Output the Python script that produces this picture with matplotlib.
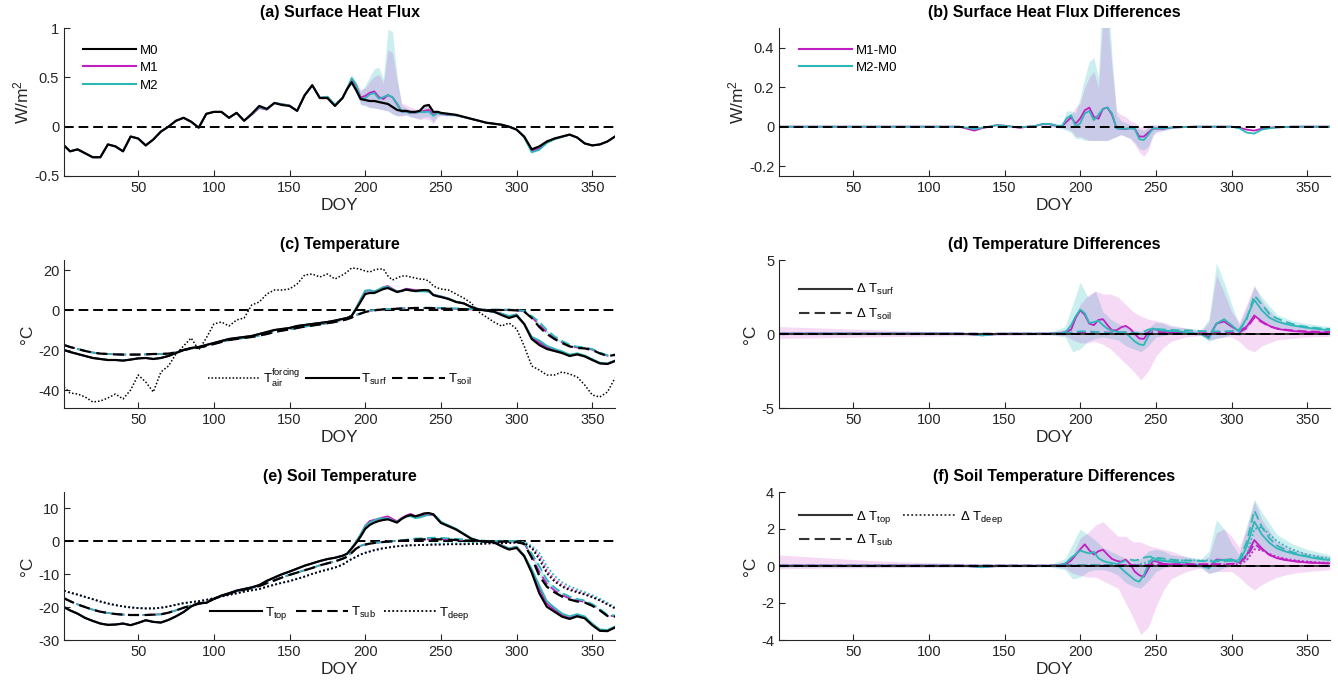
import numpy as np
import matplotlib.pyplot as plt
from matplotlib.lines import Line2D
from matplotlib.ticker import FuncFormatter

plt.rcParams['font.family'] = ['Liberation Sans', 'DejaVu Sans']
plt.rcParams['mathtext.fontset'] = 'custom'
plt.rcParams['mathtext.rm'] = 'Liberation Sans'
plt.rcParams['mathtext.it'] = 'Liberation Sans:italic'
plt.rcParams['axes.unicode_minus'] = False

# DOY grid: 5-day steps, 3-day steps over the summer spike period
doy = np.r_[1, np.arange(5, 186, 5), np.arange(188, 249, 3), np.arange(250, 366, 5)]
xticks = [50, 100, 150, 200, 250, 300, 350]

# (a) surface heat flux of M0 (W/m2)
flux_m0 = [
    -0.19, -0.25, -0.23, -0.27, -0.31, -0.31, -0.18, -0.20, -0.25, -0.10,
    -0.12, -0.19, -0.13, -0.05, 0.00, 0.06, 0.09, 0.05, -0.01, 0.13,
    0.15, 0.15, 0.09, 0.14, 0.06, 0.13, 0.21, 0.18, 0.24, 0.22,
    0.21, 0.16, 0.32, 0.42, 0.29, 0.29, 0.21, 0.29,
    0.38, 0.45, 0.37, 0.28, 0.27, 0.26, 0.26, 0.25, 0.24, 0.23, 0.20,
    0.17, 0.16, 0.16, 0.15, 0.15, 0.16, 0.21, 0.22, 0.15, 0.15,
    0.14, 0.13, 0.12, 0.10, 0.08, 0.06, 0.04, 0.03, 0.02, 0.00, -0.03, -0.10,
    -0.23, -0.20, -0.15, -0.12, -0.10, -0.08, -0.11, -0.17, -0.19, -0.18, -0.15, -0.10,
]
# (b) flux differences M1-M0, M2-M0
dflux_m1 = [
    0, 0, 0, 0, 0, 0, 0, 0, 0, 0, 0, 0, 0, 0, 0, 0, 0, 0, 0, 0, 0, 0, 0, 0, 0,
    -0.01, -0.02, -0.008, 0.0, 0.008, 0.005, 0.0, -0.006, 0.0, 0.003, 0.012, 0.012, 0.003,
    0.003, 0.025, 0.047, 0.015, 0.042, 0.083, 0.097, 0.05, 0.04, 0.09, 0.097,
    0.06, -0.008, -0.01, -0.012, -0.008, -0.01, -0.05, -0.05, -0.03, -0.01,
    -0.01, -0.01, -0.005, -0.003, -0.002, 0, 0, 0, 0, 0, 0, -0.005,
    -0.015, -0.02, -0.01, -0.005, -0.003, -0.002, 0, 0, 0, 0, 0, 0,
]
dflux_m2 = [
    0, 0, 0, 0, 0, 0, 0, 0, 0, 0, 0, 0, 0, 0, 0, 0, 0, 0, 0, 0, 0, 0, 0, 0, 0,
    -0.005, -0.012, -0.005, 0.0, 0.008, 0.004, 0.0, -0.003, 0.0, 0.003, 0.014, 0.013, 0.003,
    0.003, 0.042, 0.058, 0.0, 0.017, 0.067, 0.08, 0.033, 0.06, 0.09, 0.097,
    0.067, -0.008, -0.01, -0.01, -0.008, -0.01, -0.063, -0.068, -0.04, -0.01,
    -0.008, -0.008, -0.005, -0.003, -0.002, 0, 0, 0, 0, 0, 0, -0.008,
    -0.03, -0.035, -0.015, -0.008, -0.004, -0.002, 0, 0, 0, 0, 0, 0,
]
# ensemble spread of the flux differences, DOY 180-260 (doy[36:62])
band_ab = slice(36, 62)
dflux_m1_lo = [0.0, -0.005, -0.005, -0.01, -0.02, -0.05, -0.05, -0.06, -0.07, -0.07, -0.07, -0.07,
               -0.07, -0.06, -0.05, -0.04, -0.05, -0.06, -0.09, -0.13, -0.15, -0.12, -0.05,
               -0.03, -0.02, -0.01]
dflux_m1_hi = [0.02, 0.01, 0.01, 0.05, 0.06, 0.1, 0.12, 0.2, 0.25, 0.28, 0.2, 0.55, 0.55, 0.3,
               0.08, 0.06, 0.05, 0.03, 0.02, 0.0, 0.0, 0.01, 0.01, 0.01, 0.01, 0.005]
dflux_m2_lo = [0.0, -0.005, -0.01, -0.02, -0.03, -0.06, -0.06, -0.07, -0.07, -0.07, -0.07, -0.07,
               -0.07, -0.06, -0.05, -0.04, -0.05, -0.06, -0.08, -0.11, -0.12, -0.1, -0.04,
               -0.025, -0.02, -0.01]
dflux_m2_hi = [0.025, 0.015, 0.02, 0.08, 0.08, 0.07, 0.15, 0.25, 0.33, 0.35, 0.25, 0.76, 0.76, 0.35,
               0.06, 0.03, 0.02, 0.01, 0.0, -0.01, -0.02, 0.0, 0.01, 0.005, 0.005, 0.0]

# (c) temperatures of M0 (degC)
t_air = [
    -38.5, -41.5, -42, -43.5, -46, -45.5, -44, -42, -44.5, -40, -32.5, -36, -41, -31, -28,
    -22, -18, -14, -20, -14, -7, -6, -8, -5, -4, 2.5, 4, 8, 10, 10, 10.5, 13, 17.5, 18,
    16.5, 18, 15.5, 17.5,
    19, 21, 20.8, 20.3, 19.5, 19, 20, 20.5, 20.5, 17, 15, 16, 17, 17, 16.5, 16, 15.5, 15.3,
    14.5, 12, 11,
    10.5, 10, 8, 6, 3.5, -1, -3.5, -6, -8, -6.5, -9.5, -18, -28, -30, -32.5, -32.5, -31,
    -32, -33.5, -37.5, -42.5, -43.5, -41, -34,
]
t_surf = [
    -20, -21, -22, -23, -24, -24.5, -25, -25, -25.3, -24.8, -24.2, -24, -24.5, -24, -23,
    -21.5, -20, -19, -18.5, -17.5, -16.5, -15.5, -14.5, -14, -13.5, -13, -12, -11, -10,
    -9.5, -9, -8, -7.5, -7, -6.5, -6, -5.3, -4.5,
    -4, -3, 0.5, 4.2, 8, 8.5, 8.5, 9.5, 10.5, 11, 10, 9, 9.5, 10.2, 9.8, 9.5, 9.8, 10, 9.8,
    7.5, 6.8,
    6.5, 5.5, 4, 3.3, 1.5, 0.3, -0.3, -0.8, -2.5, -4, -2.8, -7, -14.5, -17.5, -19.5, -20.5,
    -21.5, -23, -22.2, -23.2, -25, -26.7, -27, -25.5,
]
t_soil = [
    -17.5, -18.5, -19.5, -20.5, -21.3, -21.8, -22, -22.2, -22.3, -22.3, -22.3, -22.2, -22,
    -22, -21.8, -21.2, -20, -19.3, -18.8, -18, -17, -16, -15, -14.5, -14, -13.5, -12.8,
    -12, -11, -10.3, -9.7, -9, -8.3, -7.8, -7.2, -6.6, -6, -5.2,
    -4.6, -3.8, -2.6, -1.8, -1, -0.5, -0.2, 0.1, 0.3, 0.4, 0.5, 0.6, 0.7, 0.8, 0.9, 1, 1,
    1, 1, 0.9, 0.8,
    0.7, 0.6, 0.5, 0.4, 0.2, 0, 0, 0, 0, 0, -0.2, -0.8, -4, -8.5, -12, -14.5, -16.5, -18.2,
    -19, -19.2, -20, -21.7, -23, -22.5,
]

# (d) temperature differences M1-M0, M2-M0
dsurf_m1 = [
    0.03, 0.03, 0.03, 0.03, 0.03, 0.03, 0.03, 0.03, 0.03, 0.03, 0.03, 0.03, 0.03, 0.03, 0.03,
    0.03, 0.03, 0.03, 0.03, 0.03, 0.03, 0.03, 0.03, 0.03, 0.03,
    0.0, -0.05, -0.08, -0.05, 0.0, 0.02, 0.02, 0.02, 0.02, 0.02, 0.02, 0.03, 0.05,
    0.08, 0.15, 0.3, 1.1, 1.6, 1.3, 0.7, 0.6, 0.95, 1.0, 0.6, 0.25, 0.25, 0.45, 0.55, 0.35,
    0.0, -0.3, -0.33, 0.1, 0.33,
    0.3, 0.2, 0.1, 0.08, 0.05, 0.03, 0.0, -0.2, 0.7, 0.85, 0.5, 0.2, 0.5, 1.25, 0.85, 0.55,
    0.35, 0.27, 0.2, 0.16, 0.13, 0.12, 0.1, 0.1,
]
dsurf_m2 = [
    0.03, 0.03, 0.03, 0.03, 0.03, 0.03, 0.03, 0.03, 0.03, 0.03, 0.03, 0.03, 0.03, 0.03, 0.03,
    0.03, 0.03, 0.03, 0.03, 0.03, 0.03, 0.03, 0.03, 0.03, 0.03,
    0.0, -0.03, -0.1, -0.05, 0.0, 0.02, 0.02, 0.02, 0.02, 0.02, 0.02, 0.03, 0.05,
    0.05, 0.2, 0.6, 1.2, 1.65, 1.4, 0.75, 0.8, 0.9, 0.6, 0.35, 0.22, 0.15, 0.1, 0.07, -0.2,
    -0.5, -0.7, -0.75, -0.15, 0.38,
    0.3, 0.22, 0.2, 0.18, 0.12, 0.05, 0.0, -0.3, 0.7, 1.0, 0.6, 0.15, 1.1, 2.3, 1.6, 1.1,
    0.85, 0.7, 0.58, 0.5, 0.42, 0.36, 0.3, 0.27,
]
dsoil_m1 = [
    0.02, 0.02, 0.02, 0.02, 0.02, 0.02, 0.02, 0.02, 0.02, 0.02, 0.02, 0.02, 0.02, 0.02, 0.02,
    0.02, 0.02, 0.02, 0.02, 0.02, 0.02, 0.02, 0.02, 0.02, 0.02, 0.02, 0.02, 0.02, 0.02, 0.02,
    0.02, 0.02, 0.02, 0.02, 0.02, 0.02, 0.02, 0.02,
    0.03, 0.05, 0.08, 0.1, 0.1, 0.1, 0.1, 0.1, 0.1, 0.1, 0.1, 0.1, 0.1, 0.1, 0.1, 0.1,
    0.05, 0.0, 0.0, 0.1, 0.15,
    0.15, 0.12, 0.1, 0.1, 0.1, 0.08, 0.05, 0.05, 0.08, 0.1, 0.1, 0.1, 0.4, 1.1, 0.8, 0.5,
    0.38, 0.3, 0.25, 0.2, 0.18, 0.16, 0.15, 0.14,
]
dsoil_m2 = [
    0.02, 0.02, 0.02, 0.02, 0.02, 0.02, 0.02, 0.02, 0.02, 0.02, 0.02, 0.02, 0.02, 0.02, 0.02,
    0.02, 0.02, 0.02, 0.02, 0.02, 0.02, 0.02, 0.02, 0.02, 0.02, 0.02, 0.02, 0.02, 0.02, 0.02,
    0.02, 0.02, 0.02, 0.02, 0.02, 0.02, 0.02, 0.02,
    0.03, 0.05, 0.1, 0.15, 0.18, 0.18, 0.18, 0.15, 0.12, 0.1, 0.08, 0.05, 0.05, 0.1, 0.12,
    0.1, 0.05, 0.05, 0.15, 0.3, 0.35,
    0.35, 0.3, 0.28, 0.25, 0.25, 0.22, 0.2, 0.18, 0.18, 0.18, 0.2, 0.3, 1.0, 2.6, 2.0, 1.35,
    1.05, 0.85, 0.68, 0.56, 0.48, 0.42, 0.37, 0.34,
]

# (e) soil temperatures of M0 (degC)
t_top = [
    -20, -21, -22, -23.3, -24.2, -25, -25.4, -25.3, -25, -25.5, -24.8, -24, -24.5, -24.7,
    -23.9, -22.8, -21.5, -19.8, -18.8, -18.7, -17.5, -16.5, -15.8, -15, -14.5, -14, -13.3,
    -12, -11, -10, -9.2, -8.3, -7.4, -6.7, -6, -5.4, -5, -4.4,
    -3.8, -2.2, -0.5, 1.5, 3.8, 5, 5.7, 6.2, 6.5, 6.7, 6.2, 5.7, 6.8, 7.6, 8, 7.6, 8, 8.5,
    8.6, 8.2, 6.6,
    5.6, 4.6, 3.6, 2.2, 0.8, 0.1, 0, -0.3, -1.5, -2.5, -2, -4.5, -9.5, -15.8, -19.9, -21.4,
    -22.9, -23.6, -22.8, -23.4, -25.5, -27.2, -27.3, -26.2,
]
t_sub = [
    -17.3, -18.2, -19.2, -20, -20.8, -21.4, -21.8, -22.1, -22.3, -22.4, -22.4, -22.4, -22.3,
    -22.2, -21.7, -21, -20.2, -19.5, -19, -18.5, -17.5, -16.7, -15.9, -15.2, -14.7, -14.2,
    -13.6, -12.7, -11.9, -11, -10.2, -9.5, -8.8, -8.1, -7.3, -6.7, -6.1, -5.3,
    -4.7, -3.5, -2.2, -1.4, -1, -0.7, -0.5, -0.4, -0.2, -0.1, 0, 0.1, 0.2, 0.3, 0.4, 0.5,
    0.6, 0.6, 0.6, 0.6, 0.6,
    0.6, 0.5, 0.4, 0.3, 0.1, 0, -0.1, -0.1, -0.1, -0.1, -0.2, -0.8, -5, -10.5, -13.8, -15.5,
    -16.8, -17.7, -18.3, -18.6, -19.6, -21, -22.7, -22.9,
]
t_deep = [
    -15, -15.6, -16.2, -16.9, -17.6, -18.3, -18.9, -19.4, -19.8, -20.1, -20.3, -20.4, -20.4,
    -20.2, -19.8, -19.3, -18.8, -18.5, -18.2, -17.8, -17.3, -16.8, -16.3, -15.8, -15.3,
    -14.9, -14.5, -13.8, -13.2, -12.6, -12.1, -11.4, -10.7, -9.9, -9.2, -8.6, -8, -7.1,
    -6.2, -5.4, -4.7, -4, -3.5, -3.1, -2.7, -2.4, -2.1, -1.9, -1.7, -1.5, -1.4, -1.3, -1.2,
    -1.2, -1.1, -1.1, -1.1, -1, -1,
    -1, -0.9, -0.9, -0.9, -0.8, -0.8, -0.7, -0.6, -0.6, -0.5, -0.4, -0.5, -2, -5.5, -9.7,
    -12.2, -13.8, -14.8, -15.5, -16.2, -17, -18, -19.2, -20.4,
]

# (f) soil temperature differences M1-M0, M2-M0
dtop_m1 = [
    0.02, 0.02, 0.02, 0.02, 0.02, 0.02, 0.02, 0.02, 0.02, 0.02, 0.02, 0.02, 0.02, 0.02, 0.02,
    0.02, 0.02, 0.02, 0.02, 0.02, 0.02, 0.02, 0.02, 0.02, 0.02,
    0.0, -0.03, -0.05, -0.03, 0.0, 0.01, 0.01, 0.01, 0.01, 0.01, 0.01, 0.02, 0.05,
    0.08, 0.12, 0.3, 0.6, 0.9, 1.17, 0.85, 0.62, 0.8, 0.88, 0.62, 0.38, 0.28, 0.23, 0.35,
    0.1, -0.3, -0.5, -0.58, -0.15, 0.27,
    0.25, 0.12, 0.08, 0.06, 0.05, 0.02, 0.0, -0.07, 0.35, 0.33, 0.35, 0.18, 0.6, 1.4, 0.95,
    0.6, 0.42, 0.33, 0.27, 0.22, 0.19, 0.17, 0.15, 0.14,
]
dtop_m2 = [
    0.02, 0.02, 0.02, 0.02, 0.02, 0.02, 0.02, 0.02, 0.02, 0.02, 0.02, 0.02, 0.02, 0.02, 0.02,
    0.02, 0.02, 0.02, 0.02, 0.02, 0.02, 0.02, 0.02, 0.02, 0.02,
    0.0, -0.03, -0.07, -0.03, 0.0, 0.01, 0.01, 0.01, 0.01, 0.01, 0.01, 0.02, 0.05,
    0.05, 0.2, 0.45, 0.62, 0.84, 0.75, 0.68, 0.77, 0.42, 0.28, 0.2, 0.16, 0.1, -0.12, -0.35,
    -0.55, -0.76, -0.85, -0.5, 0.1, 0.45,
    0.35, 0.27, 0.23, 0.2, 0.17, 0.1, 0.02, -0.13, 0.3, 0.33, 0.36, 0.2, 1.05, 2.4, 1.7,
    1.25, 0.95, 0.8, 0.68, 0.58, 0.5, 0.42, 0.36, 0.32,
]
dsub_m1 = [
    0.02, 0.02, 0.02, 0.02, 0.02, 0.02, 0.02, 0.02, 0.02, 0.02, 0.02, 0.02, 0.02, 0.02, 0.02,
    0.02, 0.02, 0.02, 0.02, 0.02, 0.02, 0.02, 0.02, 0.02, 0.02, 0.02, 0.02, 0.02, 0.02, 0.02,
    0.02, 0.02, 0.02, 0.02, 0.02, 0.02, 0.02, 0.02,
    0.03, 0.04, 0.05, 0.05, 0.05, 0.05, 0.05, 0.05, 0.05, 0.05, 0.05, 0.05, 0.05, 0.05, 0.06,
    0.06, 0.05, 0.04, 0.04, 0.06, 0.08,
    0.1, 0.1, 0.1, 0.1, 0.1, 0.1, 0.1, 0.1, 0.1, 0.1, 0.12, 0.15, 0.5, 1.2, 0.9, 0.6, 0.45,
    0.35, 0.28, 0.23, 0.2, 0.17, 0.15, 0.14,
]
ddeep_m1 = [
    0.01, 0.01, 0.01, 0.01, 0.01, 0.01, 0.01, 0.01, 0.01, 0.01, 0.01, 0.01, 0.01, 0.01, 0.01,
    0.01, 0.01, 0.01, 0.01, 0.01, 0.01, 0.01, 0.01, 0.01, 0.01, 0.01, 0.01, 0.01, 0.01, 0.01,
    0.01, 0.01, 0.01, 0.01, 0.01, 0.01, 0.01, 0.01,
    0.02, 0.02, 0.02, 0.02, 0.02, 0.02, 0.02, 0.02, 0.02, 0.02, 0.02, 0.02, 0.02, 0.02, 0.02,
    0.02, 0.02, 0.02, 0.02, 0.02, 0.02,
    0.05, 0.06, 0.07, 0.08, 0.08, 0.08, 0.08, 0.08, 0.08, 0.08, 0.08, 0.1, 0.3, 0.9, 0.85,
    0.65, 0.5, 0.4, 0.33, 0.28, 0.24, 0.21, 0.19, 0.17,
]
dsub_m2 = [
    0.02, 0.02, 0.02, 0.02, 0.02, 0.02, 0.02, 0.02, 0.02, 0.02, 0.02, 0.02, 0.02, 0.02, 0.02,
    0.02, 0.02, 0.02, 0.02, 0.02, 0.02, 0.02, 0.02, 0.02, 0.02, 0.02, 0.02, 0.02, 0.02, 0.02,
    0.02, 0.02, 0.02, 0.02, 0.02, 0.02, 0.02, 0.02,
    0.03, 0.04, 0.05, 0.05, 0.05, 0.05, 0.05, 0.05, 0.05, 0.05, 0.05, 0.05, 0.1, 0.2, 0.3,
    0.35, 0.3, 0.35, 0.45, 0.5, 0.5,
    0.45, 0.4, 0.35, 0.3, 0.3, 0.28, 0.27, 0.25, 0.25, 0.25, 0.28, 0.35, 1.3, 3.0, 2.1, 1.5,
    1.1, 0.9, 0.75, 0.62, 0.53, 0.46, 0.4, 0.36,
]
ddeep_m2 = [
    0.01, 0.01, 0.01, 0.01, 0.01, 0.01, 0.01, 0.01, 0.01, 0.01, 0.01, 0.01, 0.01, 0.01, 0.01,
    0.01, 0.01, 0.01, 0.01, 0.01, 0.01, 0.01, 0.01, 0.01, 0.01, 0.01, 0.01, 0.01, 0.01, 0.01,
    0.01, 0.01, 0.01, 0.01, 0.01, 0.01, 0.01, 0.01,
    0.02, 0.02, 0.02, 0.02, 0.02, 0.02, 0.02, 0.02, 0.02, 0.02, 0.02, 0.02, 0.02, 0.02, 0.02,
    0.02, 0.02, 0.1, 0.15, 0.25, 0.3,
    0.3, 0.3, 0.3, 0.3, 0.3, 0.3, 0.3, 0.3, 0.3, 0.3, 0.3, 0.3, 0.6, 2.0, 2.1, 1.7, 1.35,
    1.1, 0.9, 0.75, 0.62, 0.54, 0.47, 0.42,
]

# ensemble spread of the temperature differences (d, f)
band_doy = [1, 30, 60, 90, 120, 150, 180, 190, 195, 200, 205, 210, 215, 220, 225, 230, 235,
            240, 245, 250, 255, 260, 270, 280, 285, 290, 295, 300, 305, 310, 315, 320, 330,
            340, 350, 365]
dT_m1_hi = [0.5, 0.4, 0.3, 0.2, 0.15, 0.12, 0.1, 0.3, 0.8, 2.0, 2.6, 2.9, 2.7, 2.7, 2.5, 2.0,
            1.5, 1.2, 1.0, 0.9, 0.8, 0.6, 0.4, 0.2, 0.8, 4.0, 2.8, 1.5, 0.8, 2.0, 3.3, 2.2, 1.0,
            0.6, 0.45, 0.35]
dT_m1_lo = [-0.3, -0.25, -0.2, -0.15, -0.12, -0.1, -0.05, -0.1, -0.4, -0.6, -0.6, -0.5, -0.7,
            -1.0, -1.5, -2.0, -2.5, -3.1, -2.5, -1.5, -0.9, -0.5, -0.2, -0.1, -0.4, -0.3, -0.2,
            -0.2, -0.5, -1.0, -1.2, -0.8, -0.4, -0.3, -0.2, -0.15]
dT_m2_hi = [0.1, 0.1, 0.1, 0.1, 0.1, 0.1, 0.1, 0.5, 2.0, 3.5, 2.5, 2.9, 1.5, 1.0, 0.7, 0.5, 0.3,
            0.2, 0.4, 0.8, 0.7, 0.5, 0.4, 0.3, 1.0, 4.8, 3.5, 2.0, 0.6, 1.8, 3.2, 2.5, 1.3, 0.9,
            0.7, 0.5]
dT_m2_lo = [-0.05, -0.05, -0.05, -0.05, -0.05, -0.05, -0.05, -0.2, -1.2, -1.0, -0.5, -0.3, -0.2,
            -0.3, -0.4, -0.8, -1.0, -1.2, -0.8, -0.2, -0.1, 0.0, 0.0, -0.1, -0.5, -0.3, -0.2, 0.0,
            -0.1, 0.3, 1.2, 0.9, 0.4, 0.25, 0.2, 0.15]
dTs_m1_hi = [0.6, 0.45, 0.3, 0.2, 0.15, 0.12, 0.08, 0.2, 0.6, 1.5, 1.8, 2.2, 2.4, 2.0, 1.6, 1.6,
             1.3, 1.3, 1.1, 1.0, 0.9, 0.8, 0.5, 0.3, 0.5, 1.8, 2.0, 1.6, 1.0, 2.0, 3.5, 2.5, 1.3,
             0.9, 0.7, 0.5]
dTs_m1_lo = [-0.15, -0.12, -0.1, -0.08, -0.06, -0.05, -0.03, -0.1, -0.4, -0.5, -0.6, -0.6, -0.8,
             -1.0, -1.2, -2.0, -2.8, -3.7, -3.3, -2.2, -1.3, -0.7, -0.3, -0.1, -0.4, -0.3, -0.3,
             -0.3, -0.6, -1.0, -1.3, -1.0, -0.6, -0.4, -0.3, -0.2]
dTs_m2_hi = [0.1, 0.1, 0.1, 0.1, 0.1, 0.1, 0.08, 0.4, 1.2, 2.0, 1.7, 1.4, 1.0, 0.8, 0.6, 0.4, 0.3,
             0.4, 0.8, 0.9, 0.8, 0.6, 0.5, 0.4, 0.8, 2.5, 2.0, 1.2, 0.6, 2.2, 3.6, 2.9, 1.7, 1.2,
             0.9, 0.6]
dTs_m2_lo = [-0.05, -0.05, -0.05, -0.05, -0.05, -0.05, -0.05, -0.2, -0.7, -0.6, -0.3, -0.2, -0.2,
             -0.3, -0.5, -0.9, -1.1, -1.2, -0.8, -0.3, -0.1, 0.0, 0.0, -0.1, -0.4, -0.3, -0.1,
             0.0, 0.0, 0.3, 1.0, 0.8, 0.4, 0.25, 0.2, 0.15]

DARK = '#262626'
C1 = '#c21fc2'
C2 = '#2db7b7'
F1 = (0.75, 0.0, 0.75)
F2 = (0.2, 0.75, 0.75)
A1, A2 = 0.15, 0.25
ZERO = (0, (5, 2.5))
DOT = (0, (1, 1.3))
LEG = 9.5


def style(ax, title, ylim, yticks, ylabel):
    ax.set_xlim(1, 365)
    ax.set_ylim(*ylim)
    ax.set_xticks(xticks)
    ax.set_yticks(yticks)
    ax.yaxis.set_major_formatter(FuncFormatter(lambda v, p: '%g' % v))
    for s in ('top', 'right'):
        ax.spines[s].set_visible(False)
    for s in ('left', 'bottom'):
        ax.spines[s].set_color(DARK)
        ax.spines[s].set_linewidth(0.8)
    ax.tick_params(direction='in', length=4, width=0.8, color=DARK,
                   labelcolor=DARK, labelsize=10.5)
    ax.set_xlabel('DOY', fontsize=12.5, color=DARK, labelpad=2)
    ax.set_ylabel(ylabel, fontsize=12.5, color=DARK, labelpad=2)
    ax.set_title(title, fontsize=11.5, fontweight='bold', pad=8)


fig = plt.figure(figsize=(13.38, 6.85), dpi=100)
xl, xr, w, h = 64 / 1338, 779 / 1338, 551 / 1338, 148 / 685
rows = [1 - 176 / 685, 1 - 408 / 685, 1 - 640 / 685]
ax_a = fig.add_axes([xl, rows[0], w, h])
ax_b = fig.add_axes([xr, rows[0], w, h])
ax_c = fig.add_axes([xl, rows[1], w, h])
ax_d = fig.add_axes([xr, rows[1], w, h])
ax_e = fig.add_axes([xl, rows[2], w, h])
ax_f = fig.add_axes([xr, rows[2], w, h])

m0 = np.array(flux_m0)
m1 = m0 + np.array(dflux_m1)
m2 = m0 + np.array(dflux_m2)
bd = doy[band_ab]

# (a)
ax = ax_a
ax.fill_between(bd, m0[band_ab] + dflux_m2_lo, m0[band_ab] + dflux_m2_hi, color=F2, alpha=A2, lw=0)
ax.fill_between(bd, m0[band_ab] + dflux_m1_lo, m0[band_ab] + dflux_m1_hi, color=F1, alpha=A1, lw=0)
ax.axhline(0, color='k', lw=1.4, ls=ZERO)
ax.plot(doy, m1, color=C1, lw=1.3)
ax.plot(doy, m2, color=C2, lw=1.3)
ax.plot(doy, m0, color='k', lw=1.6)
style(ax, '(a) Surface Heat Flux', (-0.5, 1), [-0.5, 0, 0.5, 1], 'W/m$^\\mathregular{2}$')
ax.legend([Line2D([], [], color='k', lw=1.5), Line2D([], [], color=C1, lw=1.5),
           Line2D([], [], color=C2, lw=1.5)], ['M0', 'M1', 'M2'],
          loc='upper left', bbox_to_anchor=(0.034, 0.89), frameon=False, fontsize=LEG,
          handlelength=4.0, handletextpad=0.3, labelspacing=0.4, borderaxespad=0, borderpad=0)

# (b)
ax = ax_b
ax.fill_between(bd, dflux_m2_lo, dflux_m2_hi, color=F2, alpha=A2, lw=0)
ax.fill_between(bd, dflux_m1_lo, dflux_m1_hi, color=F1, alpha=A1, lw=0)
ax.plot(doy, dflux_m1, color=C1, lw=1.3)
ax.plot(doy, dflux_m2, color=C2, lw=1.3)
ax.axhline(0, color='k', lw=1.4, ls=ZERO, zorder=5)
style(ax, '(b) Surface Heat Flux Differences', (-0.25, 0.5), [-0.2, 0, 0.2, 0.4],
      'W/m$^\\mathregular{2}$')
ax.legend([Line2D([], [], color=C1, lw=1.5), Line2D([], [], color=C2, lw=1.5)],
          ['M1-M0', 'M2-M0'],
          loc='upper left', bbox_to_anchor=(0.036, 0.89), frameon=False, fontsize=LEG,
          handlelength=4.0, handletextpad=0.3, labelspacing=0.4, borderaxespad=0, borderpad=0)

# (c)
ax = ax_c
surf0 = np.array(t_surf)
soil0 = np.array(t_soil)
surf1, surf2 = surf0 + dsurf_m1, surf0 + dsurf_m2
soil1, soil2 = soil0 + dsoil_m1, soil0 + dsoil_m2
ax.fill_between(doy, surf0, surf2, color=F2, alpha=A2, lw=0)
ax.fill_between(doy, surf0, surf1, color=F1, alpha=A1, lw=0)
ax.fill_between(doy, soil0, soil2, color=F2, alpha=A2, lw=0)
ax.axhline(0, color='k', lw=1.4, ls=ZERO)
ax.plot(doy, t_air, color='k', lw=1.1, ls=DOT)
for s, c in ((surf1, C1), (surf2, C2)):
    ax.plot(doy, s, color=c, lw=1.3)
for s, c in ((soil1, C1), (soil2, C2)):
    ax.plot(doy, s, color=c, lw=1.3, ls=ZERO)
ax.plot(doy, surf0, color='k', lw=1.6)
ax.plot(doy, soil0, color='k', lw=1.6, ls=ZERO)
style(ax, '(c) Temperature', (-49, 25), [-40, -20, 0, 20], '°C')
ax.legend([Line2D([], [], color='k', lw=1.1, ls=DOT), Line2D([], [], color='k', lw=1.5),
           Line2D([], [], color='k', lw=1.5, ls=ZERO)],
          [r'$\mathregular{T_{air}^{forcing}}$', r'$\mathregular{T_{surf}}$',
           r'$\mathregular{T_{soil}}$'],
          loc='center', bbox_to_anchor=(0.5, 0.2), ncol=3, frameon=False, fontsize=LEG,
          handlelength=4.0, handletextpad=0.2, columnspacing=0.4, borderaxespad=0, borderpad=0)

# (d)
ax = ax_d
ax.fill_between(band_doy, dT_m2_lo, dT_m2_hi, color=F2, alpha=A2, lw=0)
ax.fill_between(band_doy, dT_m1_lo, dT_m1_hi, color=F1, alpha=A1, lw=0)
ax.plot(doy, dsurf_m1, color=C1, lw=1.3)
ax.plot(doy, dsoil_m1, color=C1, lw=1.3, ls=ZERO)
ax.plot(doy, dsurf_m2, color=C2, lw=1.3)
ax.plot(doy, dsoil_m2, color=C2, lw=1.3, ls=ZERO)
ax.axhline(0, color='#333333', lw=1.4, zorder=5)
ax.axhline(0, color='k', lw=1.4, ls=ZERO, zorder=5)
style(ax, '(d) Temperature Differences', (-5, 5), [-5, 0, 5], '°C')
ax.legend([Line2D([], [], color='#333333', lw=1.5), Line2D([], [], color='#333333', lw=1.5, ls=ZERO)],
          ['Δ T$_\\mathregular{surf}$', 'Δ T$_\\mathregular{soil}$'],
          loc='upper left', bbox_to_anchor=(0.036, 0.85), frameon=False, fontsize=LEG,
          handlelength=4.0, handletextpad=0.3, labelspacing=0.7, borderaxespad=0, borderpad=0)

# (e)
ax = ax_e
top0, sub0, deep0 = np.array(t_top), np.array(t_sub), np.array(t_deep)
ax.fill_between(doy, top0, top0 + dtop_m1, color=F1, alpha=A1, lw=0)
ax.fill_between(doy, sub0, sub0 + dsub_m2, color=F2, alpha=A2, lw=0)
ax.axhline(0, color='k', lw=1.4, ls=ZERO)
for base, d1, d2, ls in ((top0, dtop_m1, dtop_m2, '-'), (sub0, dsub_m1, dsub_m2, ZERO),
                         (deep0, ddeep_m1, ddeep_m2, DOT)):
    ax.plot(doy, base + d1, color=C1, lw=1.3, ls=ls)
    ax.plot(doy, base + d2, color=C2, lw=1.3, ls=ls)
ax.plot(doy, top0, color='k', lw=1.6)
ax.plot(doy, sub0, color='k', lw=1.6, ls=ZERO)
ax.plot(doy, deep0, color='k', lw=1.3, ls=DOT)
style(ax, '(e) Soil Temperature', (-30, 15), [-30, -20, -10, 0, 10], '°C')
ax.legend([Line2D([], [], color='k', lw=1.5), Line2D([], [], color='k', lw=1.5, ls=ZERO),
           Line2D([], [], color='k', lw=1.3, ls=DOT)],
          [r'$\mathregular{T_{top}}$', r'$\mathregular{T_{sub}}$', r'$\mathregular{T_{deep}}$'],
          loc='center', bbox_to_anchor=(0.5, 0.18), ncol=3, frameon=False, fontsize=LEG,
          handlelength=4.0, handletextpad=0.2, columnspacing=0.6, borderaxespad=0, borderpad=0)

# (f)
ax = ax_f
ax.fill_between(band_doy, dTs_m2_lo, dTs_m2_hi, color=F2, alpha=A2, lw=0)
ax.fill_between(band_doy, dTs_m1_lo, dTs_m1_hi, color=F1, alpha=A1, lw=0)
for d1, d2, ls in ((dtop_m1, dtop_m2, '-'), (dsub_m1, dsub_m2, ZERO), (ddeep_m1, ddeep_m2, DOT)):
    ax.plot(doy, d1, color=C1, lw=1.3, ls=ls)
    ax.plot(doy, d2, color=C2, lw=1.3, ls=ls)
ax.axhline(0, color='#333333', lw=1.4, zorder=5)
ax.axhline(0, color='k', lw=1.4, ls=ZERO, zorder=5)
style(ax, '(f) Soil Temperature Differences', (-4, 4), [-4, -2, 0, 2, 4], '°C')
ax.legend([Line2D([], [], color='#333333', lw=1.5), Line2D([], [], color='#333333', lw=1.5, ls=ZERO),
           Line2D([], [], color='#333333', lw=1.3, ls=DOT)],
          ['Δ T$_\\mathregular{top}$', 'Δ T$_\\mathregular{sub}$', 'Δ T$_\\mathregular{deep}$'],
          loc='upper left', bbox_to_anchor=(0.036, 0.885), ncol=2, frameon=False, fontsize=LEG,
          handlelength=4.0, handletextpad=0.3, labelspacing=0.5, columnspacing=0.8,
          borderaxespad=0, borderpad=0)

fig.savefig('out.png', dpi=100)
